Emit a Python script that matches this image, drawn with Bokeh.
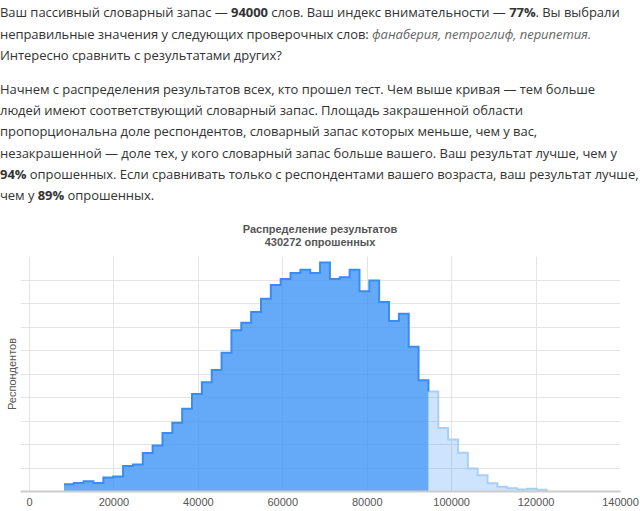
import numpy as np
from bokeh.plotting import figure
from bokeh.models import Div, FixedTicker, NumeralTickFormatter, Range1d
from bokeh.layouts import column
from bokeh.embed import file_html
from bokeh.resources import INLINE

# ---------------- data ----------------
TITLE = "Распределение результатов"
SUBTITLE = "430272 опрошенных"
Y_LABEL = "Респондентов"
USER_SCORE = 94000          # user's vocabulary
BIN_WIDTH = 2333.33         # histogram bin width (words)

# histogram bin centres (words)
bin_centers = [9333, 11667, 14000, 16333, 18667, 21000, 23333, 25667, 28000, 30333,
               32667, 35000, 37333, 39667, 42000, 44333, 46667, 49000, 51333, 53667,
               56000, 58333, 60667, 63000, 65333, 67667, 70000, 72333, 74667, 77000,
               79333, 81667, 84000, 86333, 88667, 91000, 93333, 95667, 98000, 100333,
               102667, 105000, 107333, 109667, 112000, 114333, 116667, 119000, 121333]

# respondents per bin
bin_counts = [615, 714, 873, 714, 1190, 1269, 2161, 2300, 3272, 3907,
              4977, 5850, 7040, 8289, 9300, 10331, 11799, 13722, 14357, 15269,
              16399, 17569, 18085, 18601, 18878, 18601, 19493, 18085, 18224, 18878,
              17034, 17966, 16122, 14516, 15130, 12314, 9459, 8507, 5394, 4422,
              3292, 1963, 1388, 694, 397, 278, 169, 238, 159]

x_ticks = [0, 20000, 40000, 60000, 80000, 100000, 120000, 140000]
y_grid = [0, 2000, 4000, 6000, 8000, 10000, 12000, 14000, 16000, 18000, 20000]
X_START = -2132

# ---------------- text block ----------------
P1 = [
    "Ваш пассивный словарный запас — <b>94000</b> слов. Ваш индекс внимательности — <b>77%</b>. Вы выбрали",
    "неправильные значения у следующих проверочных слов: <i style='color:#666'>фанаберия, петроглиф, перипетия.</i>",
    "Интересно сравнить с результатами других?",
]
P2 = [
    "Начнем с распределения результатов всех, кто прошел тест. Чем выше кривая — тем больше",
    "людей имеют соответствующий словарный запас. Площадь закрашенной области",
    "пропорциональна доле респондентов, словарный запас которых меньше, чем у вас,",
    "незакрашенной — доле тех, у кого словарный запас больше вашего. Ваш результат лучше, чем у",
    "<b>94%</b> опрошенных. Если сравнивать только с респондентами вашего возраста, ваш результат лучше,",
    "чем у <b>89%</b> опрошенных.",
]

para_style = ("position:absolute;left:0px;white-space:nowrap;font-family:'Open Sans';"
              "font-size:13px;letter-spacing:-0.05px;color:#333;")
html = (
    "<div style='position:relative;width:640px;height:250px;'>"
    f"<div style=\"{para_style}line-height:21.5px;top:2px;\">" + "<br>".join(P1) + "</div>"
    f"<div style=\"{para_style}line-height:21.2px;top:79px;\">" + "<br>".join(P2) + "</div>"
    "<div style=\"position:absolute;left:0;top:223px;width:640px;text-align:center;"
    "font-family:'Liberation Sans';font-weight:bold;font-size:11px;line-height:12.5px;color:#555;\">"
    f"{TITLE}<br>{SUBTITLE}</div>"
    "</div>"
)
div = Div(text=html, width=640, height=250, margin=0)

# ---------------- chart ----------------
c = np.array(bin_centers, dtype=float)
n = np.array(bin_counts, dtype=float)
left = c - BIN_WIDTH / 2
right = c + BIN_WIDTH / 2
shaded = left <= USER_SCORE


def step_xy(l, r, h):
    xs = np.empty(2 * len(l))
    ys = np.empty(2 * len(l))
    xs[0::2] = l
    xs[1::2] = r
    ys[0::2] = h
    ys[1::2] = h
    return xs, ys


p = figure(width=640, height=261, x_range=Range1d(X_START, x_ticks[-1]),
           y_range=Range1d(y_grid[0], y_grid[-1]),
           output_backend="svg", toolbar_location=None,
           min_border_left=20, min_border_right=20, min_border_top=6, min_border_bottom=20)
p.outline_line_color = None
p.background_fill_color = "white"
p.border_fill_color = "white"

# below-score (shaded) area
bx, by = step_xy(left[shaded], right[shaded], n[shaded])
p.patch(np.concatenate([[bx[0]], bx, [bx[-1]]]), np.concatenate([[0], by, [0]]),
        fill_color="#3d95f7", fill_alpha=0.8, line_color=None)
# above-score (light) area
lx, ly = step_xy(left[~shaded], right[~shaded], n[~shaded])
p.patch(np.concatenate([[lx[0]], lx, [lx[-1]]]), np.concatenate([[0], ly, [0]]),
        fill_color="#3d95f7", fill_alpha=0.25, line_color=None)
# outlines
p.line(np.concatenate([lx, [lx[-1]]]), np.concatenate([ly, [0]]),
       line_color="#a8cff7", line_width=2, line_join="miter")
p.line(np.concatenate([bx, [bx[-1]]]), np.concatenate([by, [ly[0]]]),
       line_color="#3a8cf0", line_width=2, line_join="miter")

# x axis
p.xaxis.ticker = FixedTicker(ticks=x_ticks)
p.xaxis.formatter = NumeralTickFormatter(format="0")
p.xaxis.major_tick_line_color = None
p.xaxis.minor_tick_line_color = None
p.xaxis.major_tick_out = 0
p.xaxis.major_label_standoff = 6
p.xaxis.axis_line_color = "#cccccc"
p.xaxis.axis_line_width = 2
p.xaxis.major_label_text_font = "Liberation Sans"
p.xaxis.major_label_text_font_size = "11px"
p.xaxis.major_label_text_color = "#555555"

# y axis: only its title
p.yaxis.ticker = FixedTicker(ticks=[])
p.yaxis.axis_line_color = None
p.yaxis.major_tick_line_color = None
p.yaxis.minor_tick_line_color = None
p.yaxis.major_label_standoff = 0
p.yaxis.axis_label = Y_LABEL
p.yaxis.axis_label_standoff = 3
p.yaxis.axis_label_text_font = "Liberation Sans"
p.yaxis.axis_label_text_font_size = "11px"
p.yaxis.axis_label_text_font_style = "normal"
p.yaxis.axis_label_text_color = "#555555"

# grid
p.xgrid.grid_line_color = "#e4e4e4"
p.ygrid.ticker = FixedTicker(ticks=y_grid)
p.ygrid.grid_line_color = "#e4e4e4"

layout = column(div, p)

open("out.html", "w").write(file_html(layout, INLINE, title="Словарный запас"))
